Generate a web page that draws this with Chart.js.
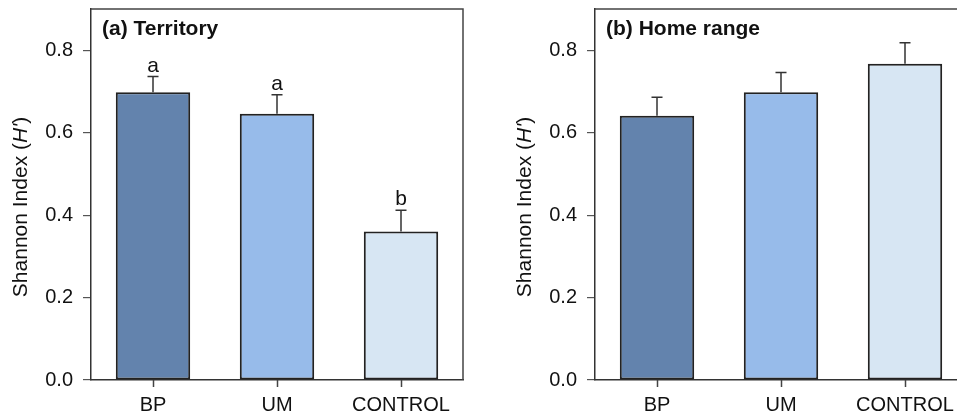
<!DOCTYPE html>
<html>
<head>
<meta charset="utf-8">
<script src="https://cdn.jsdelivr.net/npm/chart.js@4/dist/chart.umd.min.js"></script>
<style>
  html, body { margin: 0; padding: 0; background: #fff; overflow: hidden; width: 957px; height: 417px; }
  .panel { position: absolute; top: 0; height: 417px; }
  #p1 { left: 0; width: 480px; }
  #p2 { left: 480px; width: 500px; }
</style>
</head>
<body>
<div class="panel" id="p1"><canvas id="c1" width="480" height="417"></canvas></div>
<div class="panel" id="p2"><canvas id="c2" width="500" height="417"></canvas></div>
<script>
// ---- data ----
const categories = ["BP", "UM", "CONTROL"];
const territoryMeans = [0.698, 0.646, 0.360];
const territoryErrors = [0.038, 0.046, 0.052];
const territoryLetters = ["a", "a", "b"];
const homeMeans = [0.641, 0.698, 0.767];
const homeErrors = [0.045, 0.048, 0.051];
const homeLetters = ["", "", ""];
const yTicks = [0.0, 0.2, 0.4, 0.6, 0.8];
const yMax = 0.9;
const panelTitles = ["(a) Territory", "(b) Home range"];
const axisTitleParts = ["Shannon Index (", "H'", ")"];

const FONT = "'Liberation Sans', Arial, Helvetica, sans-serif";
const barColors = ["#6383ad", "#97bbea", "#d7e6f3"];

function makeChart(canvasId, means, errors, letters, title, yAxisWidth, rightPad) {
  const annot = {
    id: 'annot_' + canvasId,
    afterDatasetsDraw(chart) {
      const ctx = chart.ctx;
      const meta = chart.getDatasetMeta(0);
      const ys = chart.scales.y;
      ctx.save();
      ctx.strokeStyle = '#333';
      ctx.lineWidth = 1.5;
      meta.data.forEach((bar, i) => {
        const yTop = ys.getPixelForValue(means[i] + errors[i]);
        ctx.beginPath();
        ctx.moveTo(bar.x, bar.y);
        ctx.lineTo(bar.x, yTop);
        ctx.moveTo(bar.x - 5.5, yTop);
        ctx.lineTo(bar.x + 5.5, yTop);
        ctx.stroke();
        if (letters[i]) {
          ctx.fillStyle = '#111';
          ctx.font = '21px ' + FONT;
          ctx.textAlign = 'center';
          ctx.textBaseline = 'alphabetic';
          ctx.fillText(letters[i], bar.x, yTop - 5);
        }
      });
      ctx.restore();
    },
    afterDraw(chart) {
      const ctx = chart.ctx;
      const a = chart.chartArea;
      const xs = chart.scales.x;
      ctx.save();
      // x-axis tick marks at category centres (from the library's scale)
      ctx.strokeStyle = '#444';
      ctx.lineWidth = 1.5;
      ctx.beginPath();
      categories.forEach((c, i) => {
        const px = Math.round(xs.getPixelForValue(i)) + 0.5;
        ctx.moveTo(px, a.bottom);
        ctx.lineTo(px, a.bottom + 7);
      });
      ctx.stroke();
      // frame top & right
      ctx.beginPath();
      ctx.moveTo(a.left, a.top);
      ctx.lineTo(a.right, a.top);
      ctx.lineTo(a.right, a.bottom);
      ctx.stroke();
      // panel title
      ctx.fillStyle = '#111';
      ctx.font = 'bold 21px ' + FONT;
      ctx.textAlign = 'left';
      ctx.textBaseline = 'middle';
      ctx.fillText(title, a.left + 11, a.top + 20);
      // y axis title
      const cx = a.left - 70;
      const cy = (a.top + a.bottom) / 2 + 12.5;
      ctx.translate(cx, cy);
      ctx.rotate(-Math.PI / 2);
      const fN = '21px ' + FONT, fI = 'italic 21px ' + FONT;
      ctx.font = fN; const w0 = ctx.measureText(axisTitleParts[0]).width;
      ctx.font = fI; const w1 = ctx.measureText(axisTitleParts[1]).width;
      ctx.font = fN; const w2 = ctx.measureText(axisTitleParts[2]).width;
      let x = -(w0 + w1 + w2) / 2;
      ctx.textAlign = 'left';
      ctx.font = fN; ctx.fillText(axisTitleParts[0], x, 0); x += w0;
      ctx.font = fI; ctx.fillText(axisTitleParts[1], x, 0); x += w1;
      ctx.font = fN; ctx.fillText(axisTitleParts[2], x, 0);
      ctx.restore();
    }
  };

  return new Chart(document.getElementById(canvasId), {
    type: 'bar',
    data: {
      labels: categories,
      datasets: [{
        data: means,
        backgroundColor: barColors,
        borderColor: '#222',
        borderWidth: 2,
        borderSkipped: false,
        barPercentage: 0.6,
        categoryPercentage: 1.0
      }]
    },
    options: {
      responsive: false,
      animation: false,
      devicePixelRatio: 1,
      layout: { padding: { left: 0, top: 9, right: rightPad, bottom: 0 } },
      plugins: { legend: { display: false }, tooltip: { enabled: false }, title: { display: false } },
      scales: {
        x: {
          type: 'category',
          offset: true,
          grid: { display: false, drawTicks: true, tickLength: 7 },
          border: { display: true, color: '#333', width: 1.5 },
          ticks: { color: '#111', font: { family: FONT, size: 20 }, padding: 6, maxRotation: 0, autoSkip: false },
          afterFit(scale) { scale.height = 37; scale.paddingLeft = 0; scale.paddingRight = 0; }
        },
        y: {
          min: 0, max: yMax,
          grid: { display: true, drawOnChartArea: false, drawTicks: true, tickLength: 8,
                  color: '#555', tickColor: '#555', lineWidth: 1.2, tickWidth: 1.2 },
          border: { display: true, color: '#333', width: 1.5 },
          ticks: {
            color: '#111', font: { family: FONT, size: 20 }, padding: 10,
            callback: (v) => Number(v).toFixed(1)
          },
          afterBuildTicks(scale) { scale.ticks = yTicks.map(v => ({ value: v })); },
          afterFit(scale) { scale.width = yAxisWidth; scale.paddingTop = 0; scale.paddingBottom = 0; }
        }
      }
    },
    plugins: [annot]
  });
}

makeChart('c1', territoryMeans, territoryErrors, territoryLetters, panelTitles[0], 91, 17);
makeChart('c2', homeMeans, homeErrors, homeLetters, panelTitles[1], 115, 13);
</script>
</body>
</html>
